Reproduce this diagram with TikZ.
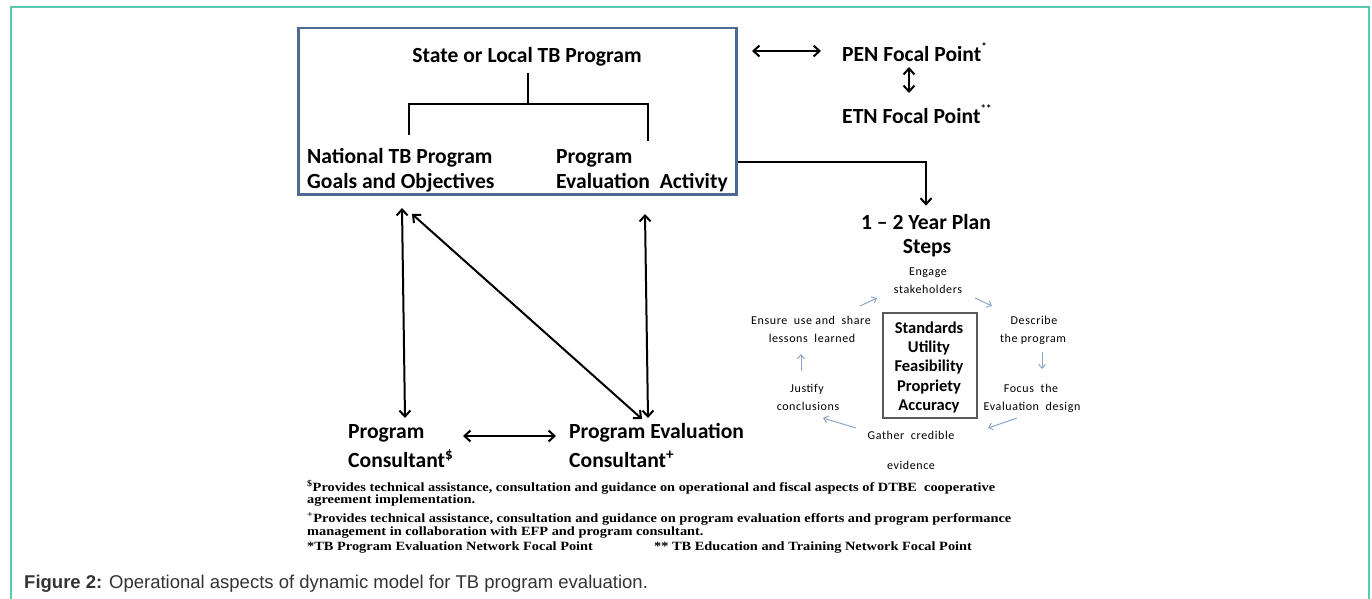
\documentclass[tikz,border=0pt]{standalone}
\usepackage{fontspec}
\setmainfont{Carlito}
\newfontfamily\notefont[FakeStretch=1.14]{Liberation Serif}
\newfontfamily\capfont{Liberation Sans}
\usetikzlibrary{arrows.meta}

\definecolor{framegreen}{HTML}{5CC8B4}
\definecolor{boxblue}{HTML}{4F6A92}
\definecolor{cycblue}{HTML}{8FA7C6}
\definecolor{capgray}{HTML}{333333}

\tikzset{
  big/.style={font=\bfseries\fontsize{21.6}{25}\selectfont},
  small/.style={font=\addfontfeatures{LetterSpace=5}\fontsize{12}{14}\selectfont},
  stdtxt/.style={font=\bfseries\fontsize{16.5}{19}\selectfont},
  note/.style={font=\notefont\bfseries\fontsize{12.6}{13}\selectfont, anchor=base west},
  link/.style={line width=2pt, >={Straight Barb[length=6pt,width=11pt]}},
  cyc/.style={cycblue, line width=1pt, -{Straight Barb[length=4pt,width=7pt]}},
}

\begin{document}
\begin{tikzpicture}[x=1pt,y=-1pt]
  \tikzstyle{every node}+=[inner sep=0pt, anchor=base]
  \useasboundingbox (0,0) rectangle (1372,599);
  % page frame, open at the bottom
  \draw [framegreen, line width=2pt] (10.5,599) -- (10.5,7.5) -- (1369,7.5) -- (1369,599);

  % program box and its tree
  \node [draw=boxblue, line width=2.5pt, minimum width=438pt, minimum height=166pt, anchor=north west] (prog) at (297,27) {};
  \node [big] (state) at (527,63) {State or Local TB Program};
  \node [big, anchor=base west] (natl) at (307,163) {National TB Program};
  \node [big, anchor=base west] (goals) at (307,188) {Goals and Objectives};
  \node [big, anchor=base west] (peprog) at (556,163) {Program};
  \node [big, anchor=base west] (peact) at (556,188) {Evaluation\ \ Activity};
  \coordinate (split) at (528,104);
  \draw [line width=2pt] ([yshift=-6pt]state.south -| split) -- (split);
  \draw [line width=2pt] (409,135) |- (split) -| (648,141);

  % focal points
  \node [big, anchor=base west] (pen) at (842,62) {PEN Focal Point\raisebox{0.55em}{\fontsize{11}{11}\selectfont *}};
  \node [big, anchor=base west] (etn) at (842,124) {ETN Focal Point\raisebox{0.55em}{\fontsize{11}{11}\selectfont **}};
  \coordinate (penl) at (752,51);
  \coordinate (penr) at (821,51);
  \draw [link, <->] (penl) -- (penr);
  \draw [link, <->] (909,67) -- (909,93);

  % plan steps
  \node [big] (plan) at (926,229) {1 -- 2 Year Plan};
  \node [big] (steps) at (927,253) {Steps};
  \draw [link, ->] ([yshift=-51pt]prog.east) -| ([yshift=8pt]plan.north);

  \node [draw=black!65, line width=1.2pt, minimum width=94pt, minimum height=105pt] (stdbox) at (930,365.5) {};
  \node [stdtxt] (std1) at (929,333) {Standards};
  \node [stdtxt] (std2) at (929,352) {Utility};
  \node [stdtxt] (std3) at (929,371) {Feasibility};
  \node [stdtxt] (std4) at (929,391) {Propriety};
  \node [stdtxt] (std5) at (929,410) {Accuracy};

  \node [small] (engage) at (928,275) {Engage};
  \node [small] (stake) at (928,293) {stakeholders};
  \node [small] (descr) at (1034,324) {Describe};
  \node [small] (descr2) at (1033,342) {the\ program};
  \node [small] (focus) at (1031,392) {Focus\ \ the};
  \node [small] (focus2) at (1032,410) {Evaluation\ \ design};
  \node [small] (gather) at (911,439) {Gather\ \ credible};
  \node [small] (evid) at (911,469) {evidence};
  \node [small] (justify) at (807,392) {Justify};
  \node [small] (justify2) at (808,410) {conclusions};
  \node [small] (ensure) at (811,324) {Ensure\ \ use and\ \ share};
  \node [small] (ensure2) at (812,342) {lessons\ \ learned};

  \draw [cyc] (860,306) -- (877,298);
  \draw [cyc] (975,298) -- (992,306);
  \draw [cyc] (1042,352) -- (1042,369);
  \draw [cyc] (1017,418) -- (988,428);
  \draw [cyc] (856,428) -- (823,418);
  \draw [cyc] (801,371) -- (801,354);

  % consultants
  \node [big, anchor=base west] (pc) at (348,438) {Program};
  \node [big, anchor=base west] (pc2) at (348,467) {Consultant\textsuperscript{\$}};
  \node [big, anchor=base west] (pec) at (569,438) {Program Evaluation};
  \node [big, anchor=base west] (pec2) at (569,467) {Consultant\textsuperscript{+}};

  \draw [link, <->] (402,208) -- (405,418);
  \draw [link, <->] (412,214) -- (642,419);
  \draw [link, <->] (645,214) -- (648,418);
  \draw [link, <->] (463,436) -- (556,436);

  % footnotes
  \node [note] (fn1) at (307,491) {\textsuperscript{\$}Provides technical assistance, consultation and guidance on operational and fiscal aspects of DTBE\ \ cooperative};
  \node [note] (fn1b) at (307,503) {agreement implementation.};
  \node [note] (fn2) at (307,522) {\textsuperscript{+}Provides technical assistance, consultation and guidance on program evaluation efforts and program performance};
  \node [note] (fn2b) at (307,535) {management in collaboration with EFP\ and program consultant.};
  \node [note] (fn3) at (307,550) {*TB Program Evaluation Network Focal Point};
  \node [note] (fn4) at (654,550) {** TB Education and Training Network Focal Point};

  \node [anchor=base west, text=capgray, font=\capfont\fontsize{18.5}{18.5}\selectfont] (caption) at (24,588)
    {\textbf{Figure 2:} Operational aspects of dynamic model for TB program evaluation.};
\end{tikzpicture}
\end{document}
